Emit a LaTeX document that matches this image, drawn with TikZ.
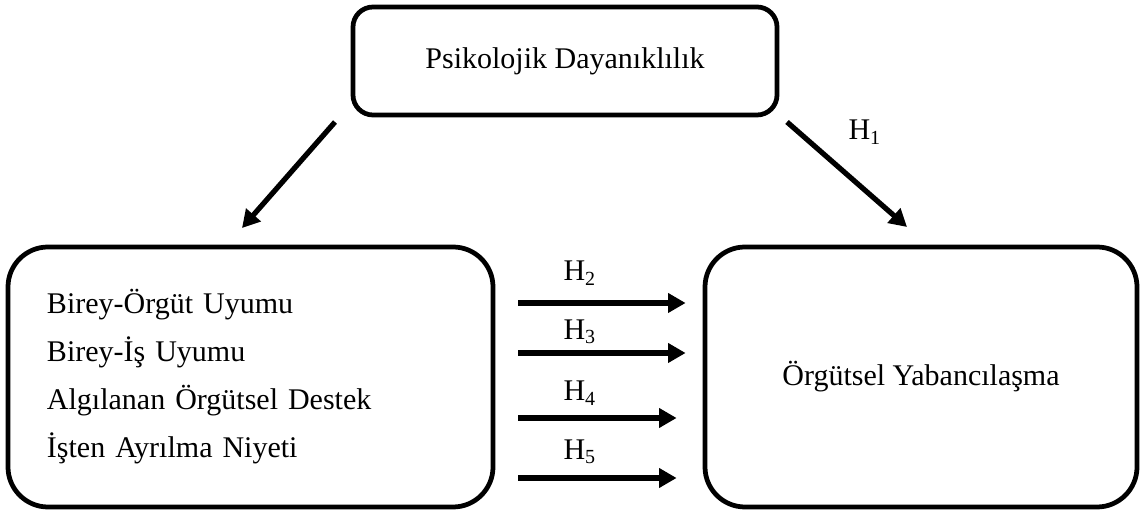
\documentclass[tikz,border=0pt]{standalone}
\usepackage{fontspec}
\setmainfont{Liberation Serif}
\usetikzlibrary{arrows.meta}

\begin{document}
\begin{tikzpicture}[
    x=0.4pt, y=-0.4pt,
    every node/.style={font=\fontsize{12}{19.2}\selectfont},
    box/.style={draw, line width=1.9pt, rounded corners=16pt},
    hyp/.style={-{Triangle[length=7pt,width=7.5pt]}, line width=2.1pt},
    >=Stealth
]
\useasboundingbox (0,0) rectangle (1144,510);

% --- Boxes ---
\node[box, rounded corners=8pt, minimum width=169.6pt, minimum height=43.2pt]
    (dayan) at (565,61) {\raisebox{-2.8pt}{Psikolojik Dayanıklılık}};
\node[box, minimum width=194pt, minimum height=104pt, text width=162.8pt,
    align=left, inner sep=0pt] (uyum) at (250.5,377)
    {Birey-Örgüt Uyumu\\Birey-İş Uyumu\\Algılanan Örgütsel Destek\\İşten Ayrılma Niyeti\\[-3pt]};
\node[box, minimum width=172.8pt, minimum height=104pt]
    (yaban) at (921,377) {Örgütsel Yabancılaşma};

% --- Diagonal arrows ---
\coordinate (d1) at (335,122);
\coordinate (d2) at (242,228);
\coordinate (d3) at (787,122);
\coordinate (d4) at (907,227);
\draw[hyp] (d1) -- (d2);
\draw[hyp] (d3) -- (d4);
\node (h1) at (865,132) {H\textsubscript{1}};

% --- Horizontal arrows ---
\draw[hyp, shorten <=9.2pt, shorten >=6.8pt] (uyum.east |- 0,303) -- (yaban.west |- 0,303);
\draw[hyp, shorten <=9.2pt, shorten >=6.8pt] (uyum.east |- 0,353) -- (yaban.west |- 0,353);
\draw[hyp, shorten <=9.2pt, shorten >=10.4pt] (uyum.east |- 0,418) -- (yaban.west |- 0,418);
\draw[hyp, shorten <=9.2pt, shorten >=10.4pt] (uyum.east |- 0,478) -- (yaban.west |- 0,478);
\node (h2) at (580,273) {H\textsubscript{2}};
\node (h3) at (580,332) {H\textsubscript{3}};
\node (h4) at (580,393) {H\textsubscript{4}};
\node (h5) at (580,452) {H\textsubscript{5}};

\end{tikzpicture}
\end{document}
